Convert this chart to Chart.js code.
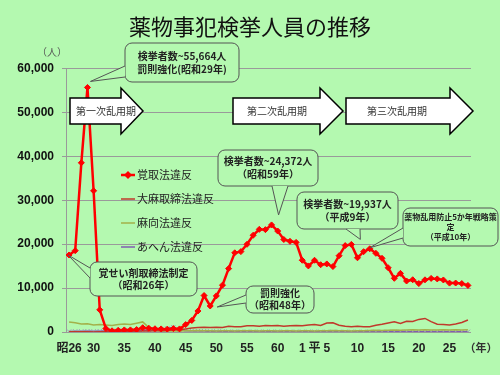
<!DOCTYPE html>
<html lang="ja">
<head>
<meta charset="utf-8">
<script src="https://cdn.jsdelivr.net/npm/chart.js@4"></script>
<style>
html, body { margin: 0; padding: 0; background: #b4f9b0; }
#wrap { width: 500px; height: 375px; }
</style>
</head>
<body>
<div id="wrap"><canvas id="line-chart" width="500" height="375"></canvas></div>
<script>
const years = [
	'昭26', '昭27', '昭28', '昭29', '昭30', '昭31', '昭32', '昭33', '昭34', '昭35',
	'昭36', '昭37', '昭38', '昭39', '昭40', '昭41', '昭42', '昭43', '昭44', '昭45',
	'昭46', '昭47', '昭48', '昭49', '昭50', '昭51', '昭52', '昭53', '昭54', '昭55',
	'昭56', '昭57', '昭58', '昭59', '昭60', '昭61', '昭62', '昭63',
	'平1', '平2', '平3', '平4', '平5', '平6', '平7', '平8', '平9', '平10',
	'平11', '平12', '平13', '平14', '平15', '平16', '平17', '平18', '平19', '平20',
	'平21', '平22', '平23', '平24', '平25', '平26', '平27', '平28'
];
// 覚取法違反
const kakusei = [
	17528, 18521, 38514, 55664, 32140, 5047, 781, 271, 376, 476,
	477, 546, 971, 856, 736, 702, 649, 775, 704, 1682,
	2634, 4777, 8301, 5919, 8218, 10667, 14426, 18027, 18297, 19963,
	22024, 23365, 23301, 24372, 22980, 21052, 20643, 20399,
	16334, 15038, 16330, 15311, 15495, 14896, 17364, 19666, 19937, 16888,
	18285, 18942, 17912, 16771, 14624, 12220, 13346, 11606, 11895, 11025,
	11873, 12200, 12083, 11842, 11127, 11148, 11022, 10607
];
// 大麻取締法違反
const taima = [
	30, 40, 50, 30, 20, 40, 50, 80, 100, 120,
	150, 180, 200, 250, 280, 300, 350, 450, 520, 700,
	900, 1000, 1100, 1000, 1100, 1000, 1300, 1200, 1200, 1400,
	1400, 1300, 1500, 1400, 1500, 1300, 1400, 1500,
	1400, 1600, 1700, 1500, 2055, 2100, 1550, 1300, 1175, 1320,
	1220, 1220, 1520, 1750, 2030, 2310, 1940, 2420, 2380, 2870,
	3090, 2370, 1760, 1690, 1620, 1810, 2170, 2720
];
// 麻向法違反
const mayaku = [
	2300, 2100, 1800, 1900, 1600, 1700, 1600, 1500, 1700, 1800,
	1700, 2000, 2300, 1000, 400, 250, 200, 200, 250, 300,
	300, 350, 300, 300, 250, 300, 300, 250, 300, 300,
	300, 250, 300, 300, 250, 300, 300, 250,
	300, 300, 250, 300, 300, 350, 300, 300, 250, 300,
	300, 350, 400, 350, 400, 450, 400, 450, 500, 450,
	500, 450, 450, 500, 450, 500, 450, 500
];
// あへん法違反
const ahen = [
	100, 150, 150, 200, 150, 200, 200, 250, 250, 300,
	300, 350, 400, 450, 400, 500, 800, 1100, 500, 300,
	250, 200, 200, 150, 150, 150, 100, 100, 100, 100,
	100, 100, 100, 100, 100, 80, 80, 80,
	80, 80, 80, 60, 60, 60, 60, 60, 60, 60,
	60, 60, 60, 50, 50, 50, 50, 50, 50, 50,
	50, 50, 50, 50, 50, 50, 50, 50
];
const tickText = {
	'昭26': '昭26', '昭30': '30', '昭35': '35', '昭40': '40', '昭45': '45',
	'昭50': '50', '昭55': '55', '昭60': '60', '平1': '1', '平3': '平',
	'平5': '5', '平10': '10', '平15': '15', '平20': '20', '平25': '25'
};

const BG = '#b4f9b0';
const JP = "'Noto Sans CJK JP', sans-serif";

function arrow(c, x0, xh, xt, yc, text, tx) {
	c.beginPath();
	c.moveTo(x0, yc - 13);
	c.lineTo(xh, yc - 13);
	c.lineTo(xh, yc - 23);
	c.lineTo(xt, yc);
	c.lineTo(xh, yc + 23);
	c.lineTo(xh, yc + 13);
	c.lineTo(x0, yc + 13);
	c.closePath();
	c.fillStyle = '#fff';
	c.fill();
	c.lineWidth = 1.5;
	c.strokeStyle = '#000';
	c.stroke();
	c.fillStyle = '#333';
	c.font = '10px ' + JP;
	c.textAlign = 'center';
	c.textBaseline = 'middle';
	c.fillText(text, tx, yc);
}

function callout(c, b, tip, base, lines, font, lh) {
	c.beginPath();
	c.roundRect(b.x, b.y, b.w, b.h, 7);
	c.fillStyle = BG;
	c.fill();
	c.lineWidth = 1;
	c.strokeStyle = '#555';
	c.stroke();
	c.beginPath();
	c.moveTo(base[0][0], base[0][1]);
	c.lineTo(tip[0], tip[1]);
	c.lineTo(base[1][0], base[1][1]);
	c.closePath();
	c.fill();
	c.beginPath();
	c.moveTo(base[0][0], base[0][1]);
	c.lineTo(tip[0], tip[1]);
	c.lineTo(base[1][0], base[1][1]);
	c.stroke();
	c.fillStyle = '#222';
	c.font = font;
	c.textAlign = 'center';
	c.textBaseline = 'middle';
	const cy = b.y + b.h / 2 - (lines.length - 1) * lh / 2;
	lines.forEach((t, i) => c.fillText(t, b.x + b.w / 2, cy + i * lh));
}

const bgPlugin = {
	id: 'bg',
	beforeDraw(chart) {
		const c = chart.ctx;
		c.save();
		c.fillStyle = BG;
		c.fillRect(0, 0, chart.width, chart.height);
		c.restore();
	}
};

const overlay = {
	id: 'overlay',
	afterDraw(chart) {
		const c = chart.ctx;
		const xs = chart.scales.x, ys = chart.scales.y;
		const pt = (key, v, dx, dy) => [xs.getPixelForValue(years.indexOf(key)) + dx, ys.getPixelForValue(v) + dy];
		c.save();

		arrow(c, 70, 121, 143, 111, '第一次乱用期', 106);
		arrow(c, 233, 320, 343, 111, '第二次乱用期', 277);
		arrow(c, 346, 450, 473, 111, '第三次乱用期', 397);

		const f10 = 'bold 10px ' + JP;
		callout(c, {x: 125, y: 43, w: 114, h: 39}, pt('昭29', kakusei[3], 3, -6),
			[[125, 66], [125, 77]], ['検挙者数~55,664人', '罰則強化(昭和29年)'], f10, 13);
		callout(c, {x: 90, y: 262, w: 107, h: 34}, pt('昭26', kakusei[0], -1, 0),
			[[90, 268], [90, 278]], ['覚せい剤取締法制定', '（昭和26年）'], f10, 12);
		callout(c, {x: 246, y: 286, w: 68, h: 27}, pt('昭49', kakusei[23], 7, 1),
			[[246, 295], [246, 303]], ['罰則強化', '（昭和48年）'], f10, 12);
		callout(c, {x: 218, y: 150, w: 100, h: 36}, pt('昭59', kakusei[33], 7, -10),
			[[272, 186], [288, 186]], ['検挙者数~24,372人', '（昭和59年）'], f10, 13);
		callout(c, {x: 297, y: 192, w: 101, h: 37}, pt('平9', kakusei[46], 9, -5),
			[[346, 229], [360, 229]], ['検挙者数~19,937人', '（平成9年）'], f10, 13);
		callout(c, {x: 403, y: 208, w: 95, h: 38}, pt('平12', kakusei[49], 0, -1),
			[[403, 228], [403, 238]], ['薬物乱用防止5か年戦略策', '定', '（平成10年）'], 'bold 8px ' + JP, 10);

		// legend
		chart.data.datasets.forEach((ds, i) => {
			const y = 175 + i * 24;
			c.beginPath();
			c.moveTo(121, y);
			c.lineTo(135, y);
			c.strokeStyle = ds.borderColor;
			c.lineWidth = ds.borderWidth;
			c.stroke();
			if (i === 0) {
				c.beginPath();
				c.moveTo(128, y - 4); c.lineTo(132, y); c.lineTo(128, y + 4); c.lineTo(124, y);
				c.closePath();
				c.fillStyle = ds.borderColor;
				c.fill();
			}
			c.fillStyle = '#222';
			c.font = '11px ' + JP;
			c.textAlign = 'left';
			c.textBaseline = 'middle';
			c.fillText(ds.label, 137, y);
		});

		c.fillStyle = '#555';
		c.font = '10px ' + JP;
		c.textAlign = 'center';
		c.fillText('（人）', 52, 52);
		c.fillStyle = '#333';
		c.font = 'bold 11px ' + JP;
		c.fillText('（年）', 481, 348);
		c.restore();
	}
};

const ctx = document.querySelector('#line-chart');

new Chart(ctx, {
	type: 'line',
	data: {
		labels: years,
		datasets: [
			{
				label: '覚取法違反',
				data: kakusei,
				borderColor: '#ff0000',
				backgroundColor: '#ff0000',
				borderWidth: 2.5,
				pointStyle: 'rectRot',
				pointRadius: 3,
				pointBorderWidth: 1,
				order: 0
			},
			{
				label: '大麻取締法違反',
				data: taima,
				borderColor: '#c0392b',
				borderWidth: 1.5,
				pointRadius: 0,
				order: 1
			},
			{
				label: '麻向法違反',
				data: mayaku,
				borderColor: '#a3b14a',
				borderWidth: 1.5,
				pointRadius: 0,
				order: 2
			},
			{
				label: 'あへん法違反',
				data: ahen,
				borderColor: '#7f5fb0',
				borderWidth: 1.5,
				pointStyle: 'crossRot',
				pointRadius: 3,
				pointBorderColor: '#9a9ab8',
				pointBorderWidth: 1,
				order: 3
			}
		]
	},
	options: {
		responsive: false,
		animation: false,
		maintainAspectRatio: false,
		layout: {
			padding: 0
		},
		plugins: {
			legend: { display: false },
			tooltip: { enabled: false },
			title: {
				display: true,
				text: '薬物事犯検挙人員の推移',
				color: '#111',
				font: { family: JP, size: 22, weight: 'normal' },
				padding: { top: 13, bottom: 29 }
			}
		},
		scales: {
			x: {
				offset: true,
				grid: { display: false, drawTicks: false },
				border: { display: false },
				afterFit(scale) { scale.height = 43; },
				ticks: {
					autoSkip: false,
					maxRotation: 0,
					padding: 9,
					color: '#222',
					font: { family: "'Liberation Sans', 'Noto Sans CJK JP', sans-serif", size: 12, weight: 'bold' },
					callback(v) { return tickText[years[v]] || ''; }
				}
			},
			y: {
				min: 0,
				max: 60000,
				afterFit(scale) { scale.width = 66; },
				grid: { color: '#9a9a9a', lineWidth: 1, tickLength: 4 },
				border: { color: '#9a9a9a' },
				ticks: {
					stepSize: 10000,
					padding: 8,
					color: '#111',
					font: { family: "'Liberation Sans', sans-serif", size: 12, weight: 'bold' },
					callback(v) { return v.toLocaleString('en-US'); }
				}
			},
			// empty right-hand margin so the title stays centred on the page
			yr: {
				position: 'right',
				display: true,
				grid: { display: false },
				border: { display: false },
				ticks: { display: false },
				afterFit(scale) { scale.width = 29; }
			}
		}
	},
	plugins: [bgPlugin, overlay]
});
</script>
</body>
</html>
